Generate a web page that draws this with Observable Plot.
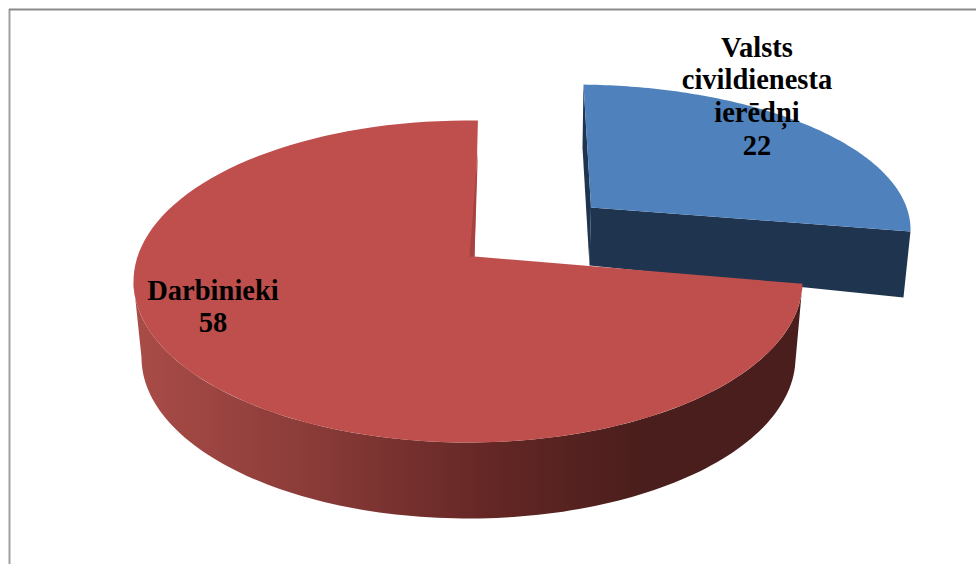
<!DOCTYPE html>
<html><head><meta charset="utf-8">
<script src="https://cdn.jsdelivr.net/npm/d3@7"></script>
<script src="https://cdn.jsdelivr.net/npm/@observablehq/plot@0.6"></script>
<style>html,body{margin:0;background:#fff}svg{display:block}</style>
</head><body><div id="chart"></div>
<script>
const categories = ["Valsts civildienesta ierēdņi", "Darbinieki"];
const values = [22, 58];
const labelLines = [["Valsts", "civildienesta", "ierēdņi"], ["Darbinieki"]];

const total = d3.sum(values);
const startAngle = 1.7;            // degrees clockwise from the top
const perspective = 0.9;           // the tilted view narrows the far slice
const blueSweep = values[0] / total * 360 * perspective;
const blueEnd = startAngle + blueSweep;

const rad = d => d * Math.PI / 180;
const on = (e, a) => ({x: e.cx + e.rx * Math.sin(rad(a)), y: e.cy - e.ry * Math.cos(rad(a))});
const arc = (e, a0, a1) => d3.range(0, 121).map(i => on(e, a0 + (a1 - a0) * i / 120));
const shift = (p, dx, dy) => ({x: p.x + dx, y: p.y + dy});

// Scene of the exploded 3-D pie
const blueTop = {cx: 573, cy: 229, rx: 337, ry: 145};
const blueApex = {x: 590.5, y: 207};
const redTop = {cx: 467.5, cy: 281, rx: 334.5, ry: 161};
const redBottom = {cx: 468, cy: 357, rx: 327, ry: 161};
const redApex = {x: 474, y: 256};

const blueS = on(blueTop, startAngle), blueE = on(blueTop, blueEnd);
const redS = on(redTop, startAngle + 360), redE = on(redTop, blueEnd);

const blueFace = [blueApex, ...arc(blueTop, startAngle, blueEnd)];
const blueFront = [blueApex, blueE, shift(blueE, -7, 66), shift(blueApex, -1.5, 58)];
const blueSliver = [blueS, shift(blueS, -1, 63), shift(blueApex, -1.5, 58), blueApex];
const redWall = [...arc(redTop, blueEnd, 270), ...arc(redBottom, 270, 92)];
const redFace = [redApex, redE, ...arc(redTop, blueEnd, startAngle + 360)];
const redSliver = [shift(redS, 0, 30), redApex, shift(redApex, -5, 0)];

const poly = (pts, fill) => Plot.line(pts, {x: "x", y: "y", fill, stroke: "none", curve: "linear"});

const gradient = () => {
  const svg = d3.create("svg:g");
  const g = svg.append("defs").append("linearGradient")
    .attr("id", "redSide").attr("gradientUnits", "userSpaceOnUse")
    .attr("x1", 135).attr("x2", 640).attr("y1", 0).attr("y2", 0);
  [[0, "#a94c48"], [0.35, "#8a3b38"], [0.7, "#642725"], [1, "#4a1e1c"]]
    .forEach(([o, c]) => g.append("stop").attr("offset", o).attr("stop-color", c));
  return svg.node();
};

const textStyle = {fontFamily: "'Liberation Serif', serif", fontWeight: "bold", fontSize: 28.5, fill: "#000", lineHeight: 1.145, textAnchor: "middle", lineAnchor: "top"};
const labels = categories.map((c, i) => ({text: [...labelLines[i], String(values[i])].join("\n")}));

const plot = Plot.plot({
  width: 976, height: 564, margin: 0,
  x: {domain: [0, 976], range: [0, 976], axis: null},
  y: {domain: [0, 564], range: [0, 564], axis: null},
  marks: [
    gradient,
    Plot.ruleX([9], {y1: 9, y2: 564, stroke: "#a0a0a0", strokeWidth: 2}),
    Plot.ruleY([9], {x1: 9, x2: 976, stroke: "#8a8a8a", strokeWidth: 2}),
    poly(blueFront, "#1f344f"),
    poly(blueSliver, "#1f344f"),
    poly(blueFace, "#4f81bd"),
    poly(redWall, "url(#redSide)"),
    poly(redFace, "#be4f4c"),
    poly(redSliver, "#a64341"),
    Plot.text([labels[0]], {...textStyle, x: () => 756.5, y: () => 33, text: "text"}),
    Plot.text([labels[1]], {...textStyle, x: () => 212.5, y: () => 276, text: "text"})
  ]
});
document.getElementById("chart").append(plot);
</script></body></html>
